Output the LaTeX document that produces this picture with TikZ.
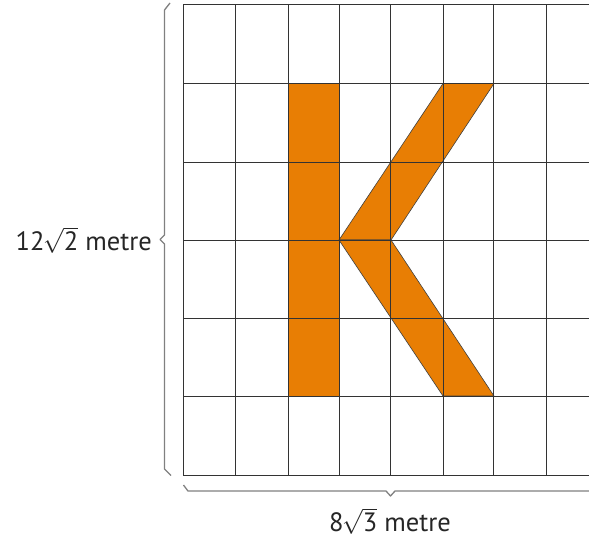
\documentclass[tikz,border=0pt]{standalone}
\usepackage{fontspec}
\setmainfont{PT Sans}
\newcommand{\rt}[1]{\kern-1.5pt$\sqrt{\hbox{#1}}$}
\begin{document}
\begin{tikzpicture}[x=1pt,y=-1pt,
  gridline/.style={draw=black!80,line width=0.9pt},
  kshape/.style={fill=kor,draw=black!75,line width=0.6pt,line join=round},
  bracel/.style={draw=black!50,line width=1.3pt,line join=round},
  lbl/.style={font=\fontsize{26.5}{30}\selectfont,text=black!85,inner sep=0pt}]
\definecolor{kor}{HTML}{E87E04}
\useasboundingbox (0,0) rectangle (589,543);
% orange K
\path[kshape] (288,83.5) rectangle (339,396);
\path[kshape] (339,240) -- (443,83.5) -- (494,83.5) -- (391,240) -- cycle;
\path[kshape] (339,240) -- (391,240) -- (494,396) -- (443,396) -- cycle;
% grid
\begin{scope}
\clip (0,0) rectangle (589,543);
\foreach \x in {183,235.7,288,339,390.7,443,493.7,546,598}
  \draw[gridline] (\x,4.5) -- (\x,475.5);
\foreach \y in {4.5,83.5,162,240,318,396.5,475.5}
  \draw[gridline] (183,\y) -- (600,\y);
\end{scope}
% braces
\draw[bracel] (170,3) -- (164.5,10) -- (164.5,235) -- (160,239.5) -- (164.5,244) -- (164.5,469) -- (171,475.5);
\draw[bracel] (183.5,485) -- (188,491) -- (386,491) -- (390.5,496) -- (395,491) -- (589,491);
% labels
\node[lbl,anchor=east] (lh) at (152,240) {12\rt{2} metre};
\node[lbl] (lw) at (390,521) {8\rt{3} metre};
\end{tikzpicture}
\end{document}
